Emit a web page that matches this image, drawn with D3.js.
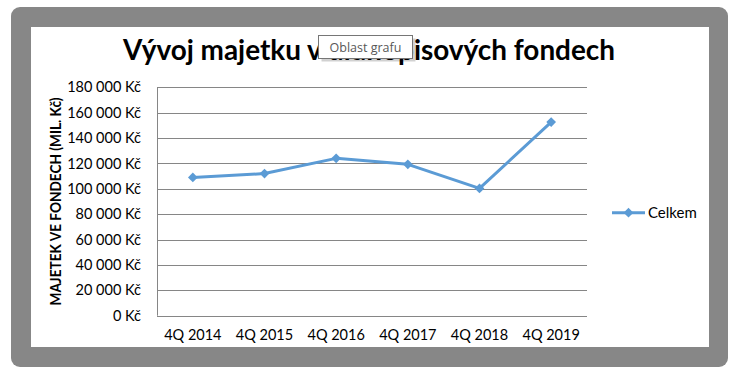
<!DOCTYPE html>
<html>
<head>
<meta charset="utf-8">
<script src="https://cdn.jsdelivr.net/npm/d3@7"></script>
<style>
  html, body { margin: 0; padding: 0; background: #fff; }
  svg { display: block; }
</style>
</head>
<body>
<div id="chart"></div>
<script>
const categories = ['4Q 2014', '4Q 2015', '4Q 2016', '4Q 2017', '4Q 2018', '4Q 2019'];
const celkem = [109000, 112000, 124000, 119300, 100300, 152600];
const yTicks = [0, 20000, 40000, 60000, 80000, 100000, 120000, 140000, 160000, 180000];
const seriesName = 'Celkem';
const title = 'Vývoj majetku v dluhopisových fondech';
const yTitle = 'MAJETEK VE FONDECH (MIL. Kč)';

const width = 739, height = 373;
const font = 'Lato, "Open Sans", sans-serif';
const blue = '#5b9bd5';

const svg = d3.select('#chart').append('svg')
    .attr('width', width)
    .attr('height', height);

// frame
svg.append('rect')
    .attr('x', 11).attr('y', 7)
    .attr('width', 717).attr('height', 360)
    .attr('rx', 9)
    .attr('fill', '#878787');
svg.append('rect')
    .attr('x', 31).attr('y', 27)
    .attr('width', 678).attr('height', 320)
    .attr('fill', '#fff');

const margin = { left: 157, right: 587, top: 87.3, bottom: 315.7 };

const x = d3.scaleBand()
    .domain(categories)
    .range([margin.left, margin.right]);
const y = d3.scaleLinear()
    .domain([0, 180000])
    .range([margin.bottom, margin.top]);

const fmt = v => d3.format(',')(v).replace(/,/g, '\u00a0') + ' Kč';

// gridlines
svg.append('g')
    .selectAll('line')
    .data(yTicks)
    .join('line')
    .attr('x1', margin.left).attr('x2', margin.right)
    .attr('y1', d => Math.round(y(d)) + 0.5)
    .attr('y2', d => Math.round(y(d)) + 0.5)
    .attr('stroke', '#868686')
    .attr('stroke-width', 1);

// y axis line
svg.append('line')
    .attr('x1', margin.left + 0.5).attr('x2', margin.left + 0.5)
    .attr('y1', margin.top).attr('y2', margin.bottom)
    .attr('stroke', '#868686');

// y axis labels
const yAxis = d3.axisLeft(y).tickValues(yTicks).tickFormat(fmt).tickSize(0).tickPadding(16);
const gy = svg.append('g')
    .attr('transform', `translate(${margin.left},0)`)
    .call(yAxis);
gy.select('.domain').remove();
gy.selectAll('text')
    .attr('font-family', font)
    .attr('font-size', 14.5)
    .attr('fill', '#000');

// x axis labels
const xAxis = d3.axisBottom(x).tickSize(0).tickPadding(14);
const gx = svg.append('g')
    .attr('transform', `translate(0,${margin.bottom})`)
    .call(xAxis);
gx.select('.domain').remove();
gx.selectAll('text')
    .attr('font-family', font)
    .attr('font-size', 14.5)
    .attr('fill', '#000');

// line
const line = d3.line()
    .x((d, i) => x(categories[i]) + x.bandwidth() / 2)
    .y(d => y(d));
svg.append('path')
    .datum(celkem)
    .attr('d', line)
    .attr('fill', 'none')
    .attr('stroke', blue)
    .attr('stroke-width', 3)
    .attr('stroke-linejoin', 'round');

const diamond = d3.symbol().type(d3.symbolDiamond2).size(60);
svg.append('g')
    .selectAll('path')
    .data(celkem)
    .join('path')
    .attr('d', diamond)
    .attr('transform', (d, i) => `translate(${x(categories[i]) + x.bandwidth() / 2},${y(d)})`)
    .attr('fill', blue);

// legend
const lg = svg.append('g').attr('transform', 'translate(612,212.7)');
lg.append('line')
    .attr('x1', 0).attr('x2', 33)
    .attr('stroke', blue).attr('stroke-width', 3);
lg.append('path')
    .attr('d', diamond)
    .attr('transform', 'translate(16.5,0)')
    .attr('fill', blue);
lg.append('text')
    .attr('x', 36).attr('y', 5)
    .attr('font-family', font)
    .attr('font-size', 15)
    .text(seriesName);

// y title
svg.append('text')
    .attr('transform', `translate(61,${(margin.top + margin.bottom) / 2}) rotate(-90)`)
    .attr('text-anchor', 'middle')
    .attr('font-family', font)
    .attr('font-weight', 'bold')
    .attr('font-size', 14.5)
    .attr('textLength', 208)
    .attr('lengthAdjust', 'spacingAndGlyphs')
    .text(yTitle);

// title
svg.append('text')
    .attr('x', 123).attr('y', 60)
    .attr('font-family', font)
    .attr('font-weight', 'bold')
    .attr('font-size', 29)
    .attr('textLength', 492)
    .attr('lengthAdjust', 'spacingAndGlyphs')
    .text(title);

// tooltip "Oblast grafu"
const tip = svg.append('g').attr('transform', 'translate(318.5,35.5)');
tip.append('rect')
    .attr('x', 3).attr('y', 3)
    .attr('width', 94).attr('height', 23)
    .attr('fill', 'rgba(0,0,0,0.18)');
tip.append('rect')
    .attr('width', 94).attr('height', 23)
    .attr('fill', '#fff')
    .attr('stroke', '#767676');
tip.append('text')
    .attr('x', 47).attr('y', 16)
    .attr('text-anchor', 'middle')
    .attr('font-family', '"Open Sans", sans-serif')
    .attr('font-size', 12.5)
    .attr('fill', '#575757')
    .text('Oblast grafu');
</script>
</body>
</html>
